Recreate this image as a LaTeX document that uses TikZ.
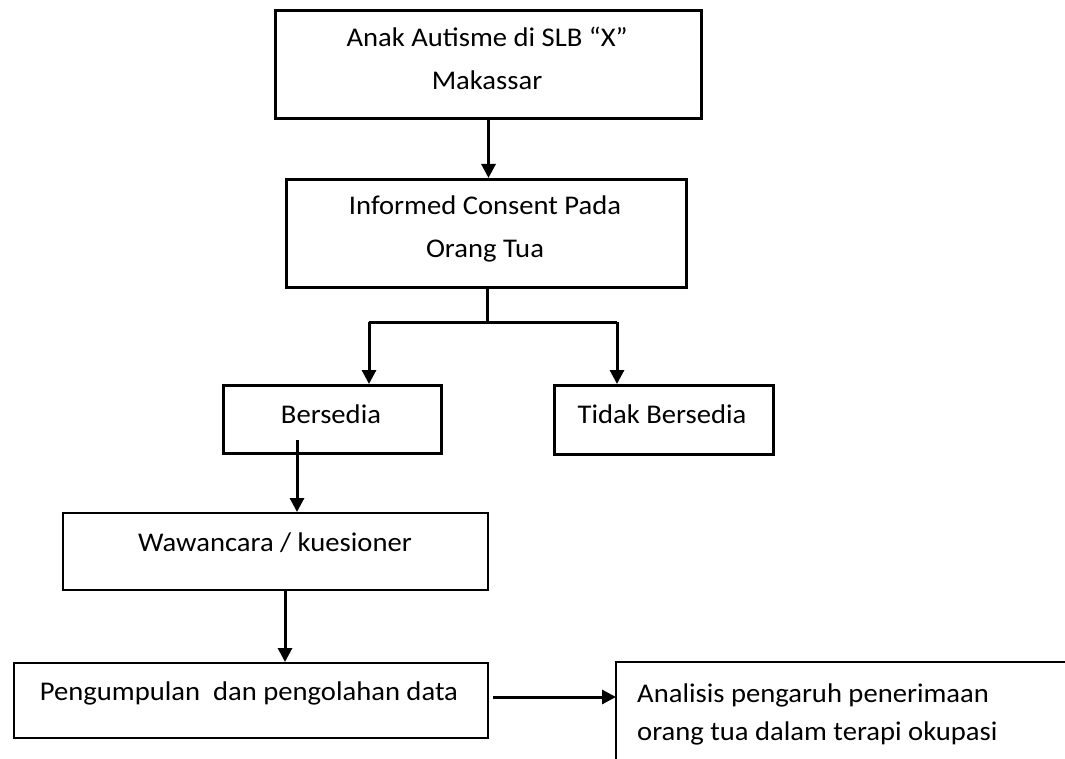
\documentclass[tikz,border=0pt]{standalone}
\usepackage{fontspec}
\setmainfont{Carlito}[FakeStretch=1.06]
\usetikzlibrary{arrows.meta}
\begin{document}
\begin{tikzpicture}[x=1pt,y=-1pt,
  box/.style={draw=black, rectangle, inner sep=0pt, anchor=north west},
  txt/.style={inner sep=0pt, anchor=base, font=\fontsize{27}{43}\selectfont},
  txtl/.style={txt, anchor=base west},
  arr/.style={line width=3pt, -{Triangle[length=14pt,width=14pt]}},
  ln/.style={line width=3pt}]
\useasboundingbox (0,0) rectangle (1065,759);
% boxes
\node[box, line width=3pt, minimum width=426pt, minimum height=108pt] (b1) at (274,9) {};
\node[box, line width=3pt, minimum width=400pt, minimum height=108pt] (b2) at (285,178) {};
\node[box, line width=2.5pt, minimum width=218pt, minimum height=68pt] (bs) at (222,384) {};
\node[box, line width=2.5pt, minimum width=219pt, minimum height=69pt] (tb) at (553,384) {};
\node[box, line width=1.5pt, minimum width=425pt, minimum height=77pt] (ww) at (62,512) {};
\node[box, line width=1.5pt, minimum width=474pt, minimum height=75pt] (pg) at (13,662) {};
\coordinate (an) at (616,662);
\coordinate (anb) at (616,759);
\coordinate (anr) at (1065,662);
\draw[line width=2pt] (anb) -- (an) -- (anr);
% texts
\node[txt] (t1a) at (487,47) {Anak Autisme di SLB “X”};
\node[txt] (t1b) at (487,90) {Makassar};
\node[txt] (t2a) at (485,215) {Informed Consent Pada};
\node[txt] (t2b) at (485,258) {Orang Tua};
\node[txt] (t3) at (331,423) {Bersedia};
\node[txt] (t4) at (662,423) {Tidak Bersedia};
\node[txt] (t5) at (275,551) {Wawancara / kuesioner};
\node[txt] (t6) at (249,700) {Pengumpulan\ \ dan pengolahan data};
\node[txtl] (t7a) at (637,702) {Analisis pengaruh penerimaan};
\node[txtl] (t7b) at (637,740) {orang tua dalam terapi okupasi};
% connectors
\draw[arr] (b1.south) -- (b1.south |- b2.north);
\coordinate (j) at (487,322);
\coordinate (jl) at (369,322);
\coordinate (jr) at (617,322);
\draw[ln] (j |- b2.south) -- (j);
\draw[ln] (jl) -- (jr);
\draw[arr] (jl) -- (jl |- bs.north);
\draw[arr] (jr) -- (jr |- tb.north);
\coordinate (bsi) at (297,440);
\draw[arr] (bsi) -- (bsi |- ww.north);
\coordinate (wd) at (285,589);
\draw[arr] (wd) -- (wd |- pg.north);
\coordinate (pgo) at (493,697);
\draw[arr] (pgo) -- (pgo -| an);
\end{tikzpicture}
\end{document}
